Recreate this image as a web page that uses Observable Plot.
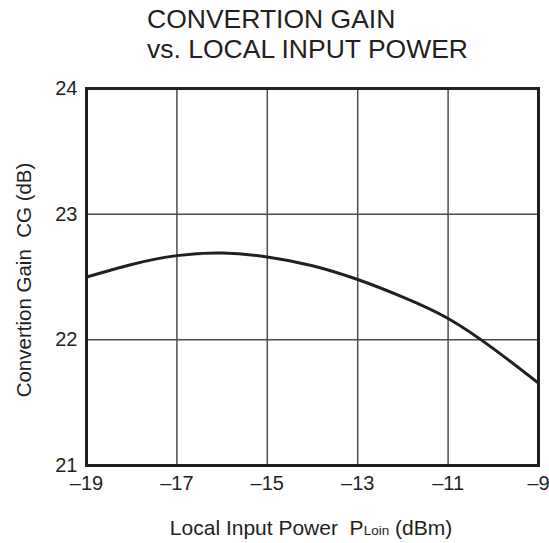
<!DOCTYPE html>
<html>
<head>
<meta charset="utf-8">
<script src="https://cdn.jsdelivr.net/npm/d3@7"></script>
<script src="https://cdn.jsdelivr.net/npm/@observablehq/plot@0.6"></script>
<style>
  html, body { margin: 0; padding: 0; background: #fff; }
  svg { display: block; }
</style>
</head>
<body>
<div id="chart"></div>
<script>
// Data
const localInputPowerDbm = [-19, -18, -17, -16, -15, -14, -13, -12, -11, -10, -9];
const conversionGainDb   = [22.50, 22.60, 22.67, 22.69, 22.66, 22.59, 22.48, 22.34, 22.17, 21.93, 21.655];
const xTicks = [-19, -17, -15, -13, -11, -9];
const yTicks = [21, 22, 23, 24];
const xGrid = [-17, -15, -13, -11];
const yGrid = [22, 23];
const titleLines = ["CONVERTION GAIN", "vs. LOCAL INPUT POWER"];
const yLabel = "Convertion Gain  CG (dB)";
const xLabelMain = "Local Input Power  P";
const xLabelSub = "Loin";
const xLabelTail = " (dBm)";

const data = localInputPowerDbm.map((p, i) => ({p, g: conversionGainDb[i]}));
const fmt = d => d < 0 ? "\u2013" + Math.abs(d) : String(d);
const ink = "#231f20";

const W = 549, H = 543;
const svg = Plot.plot({
  width: W,
  height: H,
  marginLeft: 86,
  marginRight: 11,
  marginTop: 88,
  marginBottom: 78,
  style: {fontFamily: "'Liberation Sans', Arial, sans-serif", background: "#fff", color: ink, overflow: "visible"},
  x: {domain: [-19, -9]},
  y: {domain: [21, 24]},
  marks: [
    Plot.gridX(xGrid, {stroke: "#4d4d4d", strokeWidth: 1.5, strokeOpacity: 1}),
    Plot.gridY(yGrid, {stroke: "#4d4d4d", strokeWidth: 1.5, strokeOpacity: 1}),
    Plot.line(data, {x: "p", y: "g", curve: "natural", stroke: ink, strokeWidth: 3}),
    Plot.frame({stroke: ink, strokeWidth: 3}),
    Plot.axisX(xTicks, {tickSize: 0, tickPadding: 10, tickFormat: fmt, fontSize: 20, label: null, fill: ink}),
    Plot.axisY(yTicks, {tickSize: 0, tickPadding: 9, tickFormat: fmt, fontSize: 20, label: null, fill: ink})
  ]
});

const s = d3.select(svg);
const ff = "'Liberation Sans', Arial, sans-serif";
titleLines.forEach((t, i) => {
  s.append("text")
    .attr("x", 147).attr("y", 28 + i * 30)
    .attr("text-anchor", "start")
    .attr("font-family", ff).attr("font-size", 26.5)
    .attr("fill", ink).text(t);
});
s.append("text")
  .attr("transform", "translate(31,280) rotate(-90)")
  .attr("text-anchor", "middle")
  .attr("font-family", ff).attr("font-size", 20.5)
  .attr("fill", ink).text(yLabel);
const xl = s.append("text")
  .attr("x", 311).attr("y", 535)
  .attr("text-anchor", "middle")
  .attr("font-family", ff).attr("font-size", 21)
  .attr("fill", ink);
xl.append("tspan").text(xLabelMain);
xl.append("tspan").attr("font-size", 13.5).text(xLabelSub);
xl.append("tspan").text(xLabelTail);

document.getElementById("chart").appendChild(svg);
</script>
</body>
</html>
